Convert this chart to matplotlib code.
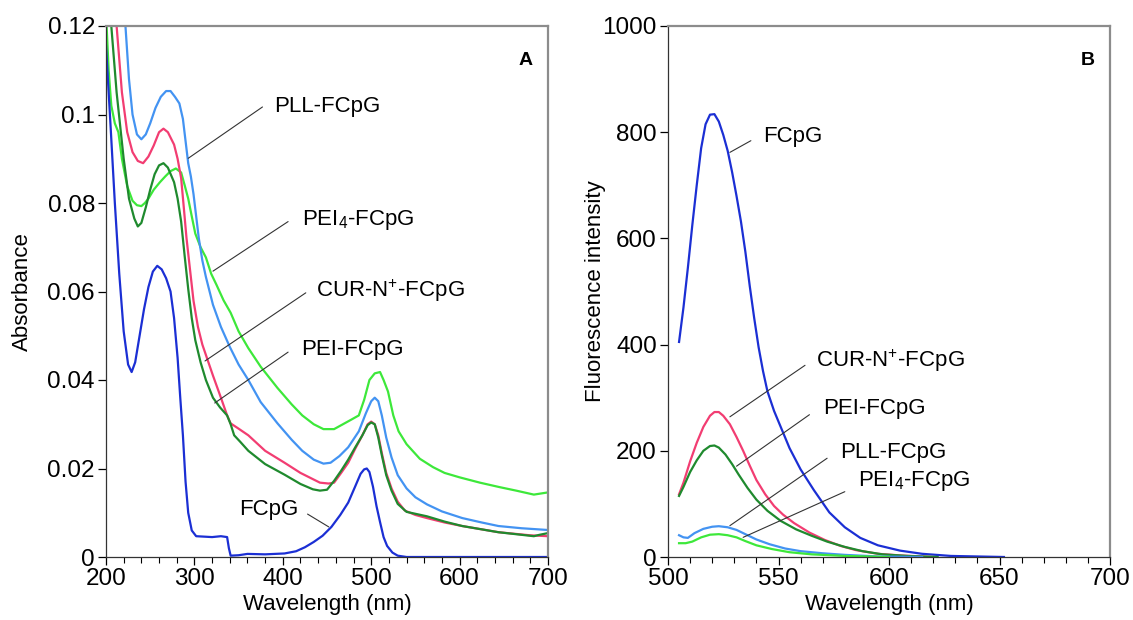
import matplotlib.pyplot as plt
from matplotlib.ticker import MultipleLocator

plt.rcParams["font.family"] = ["Liberation Sans", "DejaVu Sans"]
plt.rcParams["mathtext.fontset"] = "custom"
plt.rcParams["mathtext.rm"] = "Liberation Sans"

# ---- panel A: absorbance spectra (wavelength nm, absorbance) ----
abs_fcpg_x = [200, 205, 210, 215, 220, 225, 229, 233, 238, 243, 248, 253, 258, 263, 268, 273, 277, 281,
              284, 287, 290, 293, 297, 302, 320, 330, 337, 339, 341, 350, 360, 380, 402, 415, 425, 435,
              445, 455, 465, 474, 482, 488, 492, 495, 498, 502, 506, 510, 514, 518, 524, 530, 540, 700]
abs_fcpg_y = [0.1155, 0.098, 0.080, 0.064, 0.051, 0.0435, 0.0418, 0.044, 0.050, 0.056, 0.061, 0.0645,
              0.0658, 0.065, 0.063, 0.060, 0.054, 0.045, 0.036, 0.0275, 0.017, 0.010, 0.006, 0.0047,
              0.0045, 0.0047, 0.0045, 0.002, 0.0003, 0.0004, 0.0007, 0.0006, 0.0008, 0.0013, 0.0022,
              0.0034, 0.0048, 0.0068, 0.0095, 0.0123, 0.016, 0.0188, 0.0198, 0.0200, 0.0192, 0.0159,
              0.0115, 0.0079, 0.0045, 0.0025, 0.001, 0.0003, 0.0, 0.0]

abs_pll_x = [216, 222, 226, 230, 235, 240, 245, 250, 256, 262, 268, 273, 278, 283, 287, 290, 293, 296,
             299, 302, 305, 309, 313, 321, 330, 340, 350, 361, 375, 394, 410, 422, 435, 446, 454, 464,
             474, 486, 494, 500, 504, 508, 512, 517, 523, 530, 540, 550, 563, 580, 603, 625, 644, 670, 700]
abs_pll_y = [0.135, 0.120, 0.108, 0.100, 0.0955, 0.0944, 0.0955, 0.098, 0.1015, 0.104, 0.1053, 0.1053,
             0.104, 0.1025, 0.099, 0.094, 0.089, 0.086, 0.082, 0.077, 0.072, 0.067, 0.0633, 0.057, 0.052,
             0.0475, 0.0435, 0.040, 0.035, 0.0302, 0.0265, 0.024, 0.022, 0.0211, 0.0213, 0.0228, 0.0248,
             0.0284, 0.0325, 0.0352, 0.036, 0.0352, 0.032, 0.027, 0.0225, 0.0185, 0.0155, 0.0135, 0.0119,
             0.0103, 0.0088, 0.0078, 0.007, 0.0065, 0.0061]

abs_cur_x = [206, 212, 218, 224, 230, 236, 242, 248, 254, 260, 265, 270, 277, 281, 285, 288, 291, 295,
             299, 304, 309, 315, 321, 330, 337, 341, 350, 361, 380, 402, 420, 442, 452, 458, 466, 474,
             482, 490, 496, 500, 504, 508, 512, 517, 523, 530, 538, 550, 563, 583, 603, 644, 680, 700]
abs_cur_y = [0.135, 0.120, 0.105, 0.096, 0.0915, 0.0895, 0.089, 0.0905, 0.093, 0.096, 0.0968, 0.096,
             0.0932, 0.090, 0.0856, 0.079, 0.0722, 0.065, 0.0579, 0.052, 0.048, 0.0445, 0.041, 0.036,
             0.032, 0.0302, 0.029, 0.0275, 0.024, 0.0213, 0.019, 0.0168, 0.0166, 0.0168, 0.019, 0.0213,
             0.0245, 0.0275, 0.030, 0.0306, 0.030, 0.0275, 0.0235, 0.019, 0.0155, 0.0125, 0.0105,
             0.0095, 0.0088, 0.0078, 0.007, 0.0056, 0.0049, 0.0047]

abs_pei_x = [200, 206, 212, 220, 226, 232, 236, 240, 245, 250, 255, 260, 265, 270, 277, 281, 285, 289,
             293, 297, 301, 307, 313, 321, 329, 337, 341, 345, 352, 361, 380, 402, 420, 434, 442, 450,
             458, 466, 474, 482, 490, 496, 500, 504, 508, 512, 517, 523, 530, 540, 563, 583, 603, 644,
             684, 690, 700]
abs_pei_y = [0.128, 0.120, 0.105, 0.090, 0.081, 0.0765, 0.0747, 0.0755, 0.079, 0.083, 0.0865, 0.0885,
             0.089, 0.088, 0.0847, 0.081, 0.0758, 0.068, 0.0606, 0.054, 0.049, 0.044, 0.040, 0.036,
             0.0338, 0.032, 0.030, 0.0275, 0.026, 0.024, 0.021, 0.0186, 0.0165, 0.0153, 0.015, 0.0152,
             0.0172, 0.0195, 0.022, 0.0248, 0.0275, 0.0298, 0.0304, 0.030, 0.027, 0.023, 0.0185, 0.015,
             0.012, 0.0102, 0.0092, 0.008, 0.007, 0.0056, 0.0047, 0.005, 0.0054]

abs_pei4_x = [200, 203, 206, 210, 214, 218, 224, 230, 235, 240, 244, 248, 254, 261, 267, 273, 279, 285,
              289, 293, 297, 301, 307, 313, 319, 325, 333, 341, 350, 361, 375, 394, 410, 422, 435, 446,
              458, 468, 478, 486, 492, 498, 504, 510, 514, 519, 525, 531, 540, 555, 570, 583, 600, 623,
              645, 664, 684, 700]
abs_pei4_y = [0.123, 0.110, 0.102, 0.098, 0.096, 0.090, 0.0838, 0.0805, 0.0795, 0.0793, 0.080, 0.081,
              0.083, 0.0847, 0.086, 0.0872, 0.0878, 0.0869, 0.084, 0.081, 0.077, 0.0731, 0.070, 0.0677,
              0.064, 0.0615, 0.058, 0.0552, 0.051, 0.0472, 0.043, 0.0382, 0.0345, 0.032, 0.030, 0.0289,
              0.0289, 0.030, 0.0311, 0.032, 0.0355, 0.040, 0.0415, 0.0418, 0.040, 0.0374, 0.032, 0.0284,
              0.0255, 0.0222, 0.0203, 0.019, 0.018, 0.0168, 0.0158, 0.015, 0.0141, 0.0146]

# ---- panel B: fluorescence spectra ----
fl_fcpg_x = [505, 507, 509, 511, 513, 515, 517, 519, 521, 523, 525, 527, 529, 531, 533, 535, 537, 539,
             541, 543, 545, 548, 551, 555, 560, 566, 573, 580, 587, 595, 605, 615, 628, 652]
fl_fcpg_y = [405, 470, 545, 625, 700, 770, 815, 833, 834, 820, 795, 765, 725, 680, 632, 575, 510, 450,
             395, 350, 312, 275, 245, 205, 165, 126, 84, 56, 36, 22, 12, 6, 2, 0]

fl_cur_x = [505, 507, 510, 513, 516, 519, 521, 523, 525, 528, 531, 534, 537, 540, 544, 548, 552, 557,
            564, 571, 578, 585, 595, 605, 620]
fl_cur_y = [118, 140, 180, 215, 245, 266, 273, 273, 266, 250, 226, 200, 172, 145, 118, 96, 80, 64,
            46, 32, 21, 13, 6, 3, 0]

fl_pei_x = [505, 507, 510, 513, 516, 519, 521, 523, 526, 529, 532, 536, 540, 545, 551, 558, 565, 572,
            580, 588, 597, 608, 622]
fl_pei_y = [115, 132, 160, 182, 200, 209, 210, 206, 193, 175, 155, 130, 108, 87, 68, 52, 40, 29, 19,
            11, 5, 2, 0]

fl_pll_x = [505, 507, 509, 512, 516, 520, 523, 527, 531, 535, 540, 546, 553, 560, 570, 580, 595, 615]
fl_pll_y = [41, 37, 36, 45, 53, 57, 58, 56, 51, 43, 33, 24, 16, 11, 7, 4, 1, 0]

fl_pei4_x = [505, 508, 511, 515, 519, 523, 527, 531, 535, 540, 547, 555, 565, 580, 600]
fl_pei4_y = [26, 26, 29, 37, 42, 43, 41, 37, 30, 22, 15, 9, 5, 2, 0]

C_FCPG = "#1b2fd4"
C_PLL = "#4393f2"
C_CUR = "#f23d72"
C_PEI = "#1f8a2e"
C_PEI4 = "#3de83a"

fig = plt.figure(figsize=(11.33, 6.2), dpi=100)
axA = fig.add_axes([106 / 1133, 63 / 620, 442 / 1133, 531 / 620])
axB = fig.add_axes([668 / 1133, 63 / 620, 442 / 1133, 531 / 620])

lw = 1.6
axA.plot(abs_pei4_x, abs_pei4_y, color=C_PEI4, lw=lw)
axA.plot(abs_pll_x, abs_pll_y, color=C_PLL, lw=lw)
axA.plot(abs_cur_x, abs_cur_y, color=C_CUR, lw=lw)
axA.plot(abs_pei_x, abs_pei_y, color=C_PEI, lw=lw)
axA.plot(abs_fcpg_x, abs_fcpg_y, color=C_FCPG, lw=lw)

axB.plot(fl_fcpg_x, fl_fcpg_y, color=C_FCPG, lw=lw)
axB.plot(fl_cur_x, fl_cur_y, color=C_CUR, lw=lw)
axB.plot(fl_pei_x, fl_pei_y, color=C_PEI, lw=lw)
axB.plot(fl_pll_x, fl_pll_y, color=C_PLL, lw=lw)
axB.plot(fl_pei4_x, fl_pei4_y, color=C_PEI4, lw=lw)

axA.set_xlim(200, 700)
axA.set_ylim(0, 0.12)
axA.set_yticks([0, 0.02, 0.04, 0.06, 0.08, 0.1, 0.12])
axA.set_yticklabels(["0", "0.02", "0.04", "0.06", "0.08", "0.1", "0.12"])
axA.xaxis.set_minor_locator(MultipleLocator(20))
axA.set_xlabel("Wavelength (nm)", fontsize=16, labelpad=3)
axA.set_ylabel("Absorbance", fontsize=16)
axA.yaxis.set_label_coords(-0.165, 0.5)

axB.set_xlim(500, 700)
axB.set_ylim(0, 1000)
axB.set_xticks([500, 550, 600, 650, 700])
axB.set_yticks([0, 200, 400, 600, 800, 1000])
axB.xaxis.set_minor_locator(MultipleLocator(10))
axB.set_xlabel("Wavelength (nm)", fontsize=16, labelpad=3)
axB.set_ylabel("Fluorescence intensity", fontsize=16)
axB.yaxis.set_label_coords(-0.140, 0.5)

for ax in (axA, axB):
    ax.tick_params(which="major", direction="out", length=6, width=0.9, labelsize=17.5, pad=2)
    ax.tick_params(which="minor", direction="out", length=4, width=0.8)
    for s in ("top", "right"):
        ax.spines[s].set_color("#8c8c8c")
        ax.spines[s].set_linewidth(1.6)
    for s in ("left", "bottom"):
        ax.spines[s].set_color("#333333")
        ax.spines[s].set_linewidth(0.9)

axA.text(0.965, 0.935, "A", transform=axA.transAxes, fontsize=14, fontweight="bold", ha="right", va="center")
axB.text(0.965, 0.935, "B", transform=axB.transAxes, fontsize=14, fontweight="bold", ha="right", va="center")

ann = dict(fontsize=16, va="center", ha="left")
line = dict(arrowstyle="-", color="#333333", lw=0.8, shrinkA=0, shrinkB=0)

# panel A labels: (text, text_xy, line_start, line_end)
labels_A = [
    ("PLL-FCpG", (390, 0.1017), (377, 0.1017), (293, 0.0901)),
    (r"PEI$_\mathrm{4}$-FCpG", (422, 0.0762), (406, 0.0758), (321, 0.0646)),
    (r"CUR-N$^\mathrm{+}$-FCpG", (437, 0.0601), (426, 0.0597), (312, 0.0443)),
    ("PEI-FCpG", (421, 0.0470), (406, 0.0463), (323, 0.0348)),
    ("FCpG", (351, 0.0108), (428, 0.0097), (452, 0.0068)),
]
for txt, tpos, p0, p1 in labels_A:
    axA.text(tpos[0], tpos[1], txt, **ann)
    axA.annotate("", xy=p1, xytext=p0, arrowprops=line)

labels_B = [
    ("FCpG", (543, 792), (537.5, 784), (528, 762)),
    (r"CUR-N$^\mathrm{+}$-FCpG", (567, 370), (562, 361), (528, 264)),
    ("PEI-FCpG", (570, 279), (564, 268), (531, 171)),
    ("PLL-FCpG", (578, 197), (572, 186), (528, 59)),
    (r"PEI$_\mathrm{4}$-FCpG", (586, 143), (580, 123), (534, 37)),
]
for txt, tpos, p0, p1 in labels_B:
    axB.text(tpos[0], tpos[1], txt, **ann)
    axB.annotate("", xy=p1, xytext=p0, arrowprops=line)

fig.savefig("out.png", dpi=100)
